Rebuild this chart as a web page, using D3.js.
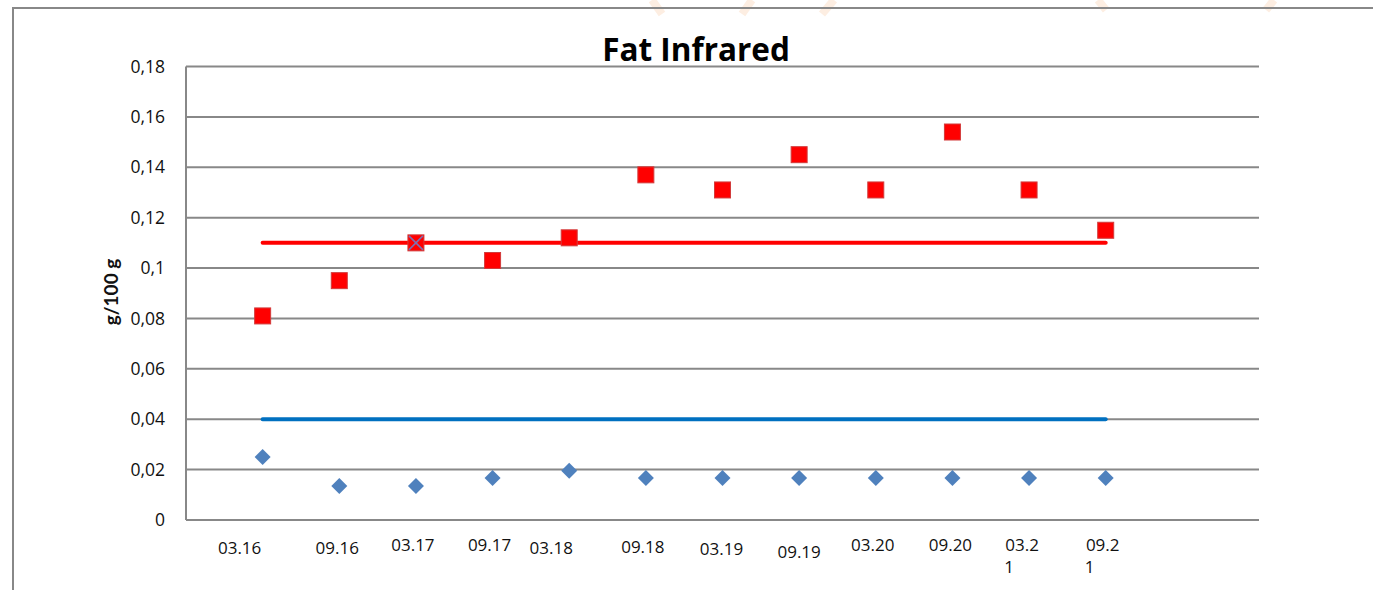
<!DOCTYPE html>
<html>
<head>
<meta charset="utf-8">
<script src="https://cdn.jsdelivr.net/npm/d3@7"></script>
<style>
  body { margin: 0; background: #fff; }
  text { font-family: "Open Sans", "Liberation Sans", sans-serif; }
</style>
</head>
<body>
<div id="graph"></div>
<script>
// sampling dates (month.year)
var categories = ["03.16", "09.16", "03.17", "09.17", "03.18", "09.18",
                  "03.19", "09.19", "03.20", "09.20", "03.21", "09.21"];
// measured fat, g/100 g
var redValues  = [0.081, 0.095, 0.110, 0.103, 0.112, 0.137,
                  0.131, 0.145, 0.131, 0.154, 0.131, 0.115];
var blueValues = [0.025, 0.0135, 0.0135, 0.0167, 0.0195, 0.0167,
                  0.0167, 0.0167, 0.0167, 0.0167, 0.0167, 0.0167];
// reference levels
var redLimit = 0.11;
var blueLimit = 0.04;
var yTicks = [0, 0.02, 0.04, 0.06, 0.08, 0.1, 0.12, 0.14, 0.16, 0.18];

// hand placed label nudges (dx, dy) like the original text boxes
var labelNudge = [[-23, 3], [-2, 3], [-3, 0], [-3, 0], [-18, 3], [-3, 2],
                  [-1, 4], [0, 7], [-3, 0], [-2, 0], [-7, 0], [-3, 0]];

function draw_function() {
    var width = 1373, height = 590;
    var svg = d3.select("#graph").append("svg")
        .attr("width", width).attr("height", height);

    // very faint watermark strokes at the top
    var wm = svg.append("g").attr("stroke", "#fdeee2").attr("stroke-width", 8)
        .attr("fill", "none");
    wm.append("path").attr("d", "M652,0 L662,14");
    wm.append("path").attr("d", "M742,14 L752,0");
    wm.append("path").attr("d", "M822,14 L834,0");
    wm.append("path").attr("d", "M1098,0 L1106,10");
    wm.append("path").attr("d", "M1266,10 L1274,0");

    // outer frame
    svg.append("path")
        .attr("d", "M13,600 L13,8 L1380,8")
        .attr("fill", "none").attr("stroke", "#888").attr("stroke-width", 2);

    var left = 186, right = 1259, top = 66.5, bottom = 520;
    // 12 categories sit on slots 1..12 of a 0..14 axis
    var x = d3.scaleLinear().domain([0, 14]).range([left, right]);
    var y = d3.scaleLinear().domain([0, 0.18]).range([bottom, top]);

    // gridlines
    svg.append("g").selectAll("line").data(yTicks).enter().append("line")
        .attr("x1", left).attr("x2", right)
        .attr("y1", function(d) { return y(d); })
        .attr("y2", function(d) { return y(d); })
        .attr("stroke", "#888").attr("stroke-width", 2);
    svg.append("line")
        .attr("x1", left).attr("x2", left).attr("y1", top).attr("y2", bottom)
        .attr("stroke", "#888").attr("stroke-width", 2);

    // y axis labels
    var fmt = function(d) { return d === 0 ? "0" : String(d).replace(".", ","); };
    var yAxis = d3.axisLeft(y).tickValues(yTicks).tickFormat(fmt).tickSize(0).tickPadding(21);
    var ya = svg.append("g").attr("transform", "translate(" + left + ",0)").call(yAxis);
    ya.select(".domain").remove();
    ya.attr("font-family", null).attr("font-size", null);
    ya.selectAll("text").attr("font-size", 17.5).attr("fill", "#111");

    svg.append("text")
        .attr("transform", "translate(118,292) rotate(-90)")
        .attr("text-anchor", "middle")
        .style("font-family", "Lato, sans-serif")
        .attr("font-size", 19).attr("font-weight", "bold").attr("fill", "#111")
        .text("g/100 g");

    // x labels
    var xl = svg.append("g").selectAll("text").data(categories).enter().append("text")
        .attr("x", function(d, i) { return x(i + 1) + labelNudge[i][0]; })
        .attr("y", function(d, i) { return 551 + labelNudge[i][1]; })
        .attr("text-anchor", "middle")
        .attr("font-size", 17).attr("fill", "#111");
    xl.each(function(d) {
        var t = d3.select(this);
        if (d.slice(-2) === "21") {
            // narrow text box wraps the last digit
            t.append("tspan").text(d.slice(0, -1));
            t.append("tspan").attr("x", t.attr("x") - 13).attr("dy", 22).text(d.slice(-1));
        } else {
            t.text(d);
        }
    });

    // title
    svg.append("text")
        .attr("x", 696).attr("y", 61)
        .attr("text-anchor", "middle")
        .attr("font-size", 31.5).attr("font-weight", "bold").attr("fill", "#000")
        .text("Fat Infrared");

    // limit lines
    var lim = svg.append("g").attr("stroke-width", 4).attr("stroke-linecap", "round");
    lim.append("line")
        .attr("x1", x(1)).attr("x2", x(categories.length))
        .attr("y1", y(blueLimit)).attr("y2", y(blueLimit))
        .attr("stroke", "#0070c0");
    lim.append("line")
        .attr("x1", x(1)).attr("x2", x(categories.length))
        .attr("y1", y(redLimit)).attr("y2", y(redLimit))
        .attr("stroke", "#ff0000");

    // blue diamonds
    svg.append("g").selectAll("path").data(blueValues).enter().append("path")
        .attr("d", "M0,-8 L8,0 L0,8 L-8,0 Z")
        .attr("transform", function(d, i) { return "translate(" + x(i + 1) + "," + y(d) + ")"; })
        .attr("fill", "#4f81bd");

    // red squares
    svg.append("g").selectAll("rect").data(redValues).enter().append("rect")
        .attr("x", function(d, i) { return x(i + 1) - 8; })
        .attr("y", function(d) { return y(d) - 8; })
        .attr("width", 16).attr("height", 16)
        .attr("fill", "#ff0000").attr("stroke", "#d23b3b").attr("stroke-width", 1);

    // cross marker where the square sits on the limit line
    var cx = x(3), cy = y(redLimit);
    svg.append("path")
        .attr("d", "M" + (cx - 7) + "," + (cy - 7) + "L" + (cx + 7) + "," + (cy + 7) +
                   "M" + (cx + 7) + "," + (cy - 7) + "L" + (cx - 7) + "," + (cy + 7))
        .attr("stroke", "#7f6fb0").attr("stroke-width", 1.5);
}

window.onload = draw_function;
</script>
</body>
</html>
